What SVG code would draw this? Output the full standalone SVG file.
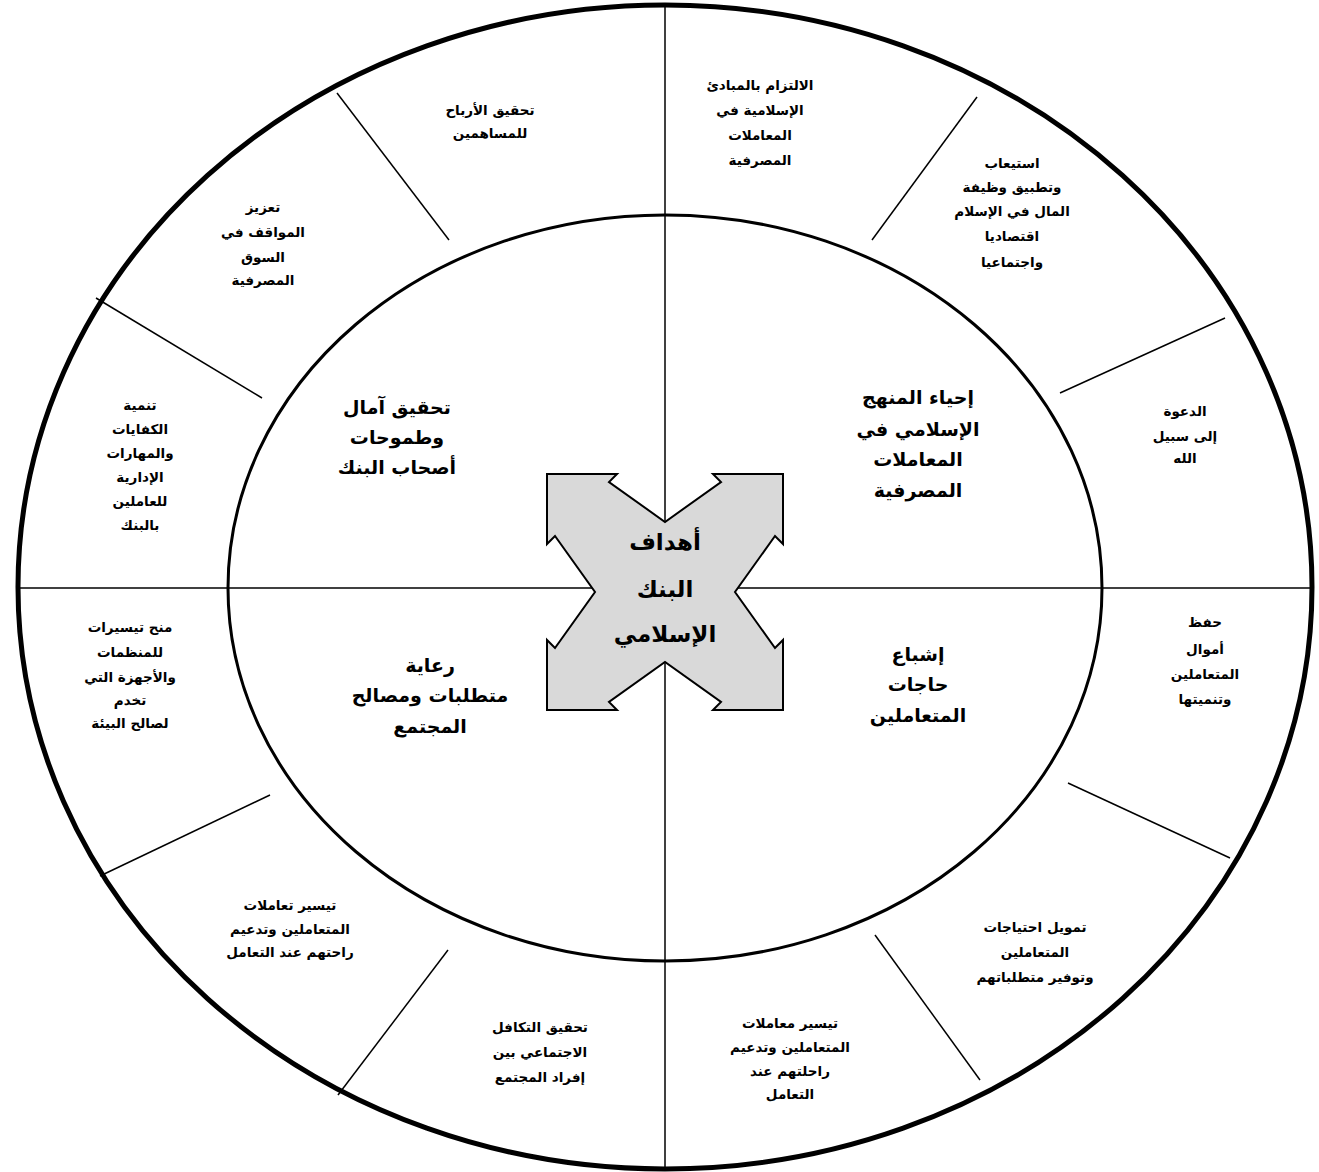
<svg xmlns="http://www.w3.org/2000/svg" width="1319" height="1172" viewBox="0 0 1319 1172">
<style>
  .o { font-family: "DejaVu Sans", "Noto Sans", sans-serif; font-weight: bold; font-size: 13.5px; text-anchor: middle; fill: #000; }
  .i { font-family: "DejaVu Sans", "Noto Sans", sans-serif; font-weight: bold; font-size: 19px; text-anchor: middle; fill: #000; }
  .c { font-family: "DejaVu Sans", "Noto Sans", sans-serif; font-weight: bold; font-size: 23px; text-anchor: middle; fill: #000; }
  .sep { stroke: #000; stroke-width: 1.5; fill: none; }
</style>
<rect width="1319" height="1172" fill="#fff"/>
<g id="connectors">
  <line class="sep" x1="665" y1="5" x2="665" y2="522"/>
  <line class="sep" x1="665" y1="662" x2="665" y2="1168"/>
  <line class="sep" x1="18" y1="588" x2="596" y2="588"/>
  <line class="sep" x1="734" y1="588" x2="1312" y2="588"/>
  <line class="sep" x1="872" y1="240" x2="977" y2="97"/>
  <line class="sep" x1="1060" y1="393" x2="1225" y2="318"/>
  <line class="sep" x1="1068" y1="783" x2="1230" y2="858"/>
  <line class="sep" x1="875" y1="935" x2="980" y2="1080"/>
  <line class="sep" x1="448" y1="950" x2="338" y2="1095"/>
  <line class="sep" x1="270" y1="795" x2="100" y2="876"/>
  <line class="sep" x1="262" y1="398" x2="96" y2="298"/>
  <line class="sep" x1="449" y1="240" x2="337" y2="93"/>
</g>
<g id="outer-ring">
  <ellipse cx="665" cy="587" rx="647" ry="582" fill="none" stroke="#000" stroke-width="5"/>
</g>
<g id="inner-ring">
  <ellipse cx="665" cy="588" rx="437" ry="373" fill="none" stroke="#000" stroke-width="3"/>
</g>
<g id="center">
  <path transform="translate(665,592)" d="M-118,-118 L-48,-118 L-56,-110 L0,-70 L56,-110 L48,-118 L118,-118 L118,-48 L110,-56 L70,0 L110,56 L118,48 L118,118 L48,118 L56,110 L0,70 L-56,110 L-48,118 L-118,118 L-118,48 L-110,56 L-70,0 L-110,-56 L-118,-48 Z" fill="#d9d9d9" stroke="#000" stroke-width="2"/>
  <text class="c" x="665" y="550">أهداف</text>
  <text class="c" x="665" y="597">البنك</text>
  <text class="c" x="665" y="642">الإسلامي</text>
</g>
<g id="q-top-left">
  <text class="i" x="397" y="414">تحقيق آمال</text>
  <text class="i" x="397" y="444">وطموحات</text>
  <text class="i" x="397" y="474">أصحاب البنك</text>
</g>
<g id="q-top-right">
  <text class="i" x="918" y="404">إحياء المنهج</text>
  <text class="i" x="918" y="436">الإسلامي في</text>
  <text class="i" x="918" y="466">المعاملات</text>
  <text class="i" x="918" y="497">المصرفية</text>
</g>
<g id="q-bottom-left">
  <text class="i" x="430" y="672">رعاية</text>
  <text class="i" x="430" y="702">متطلبات ومصالح</text>
  <text class="i" x="430" y="733">المجتمع</text>
</g>
<g id="q-bottom-right">
  <text class="i" x="918" y="661">إشباع</text>
  <text class="i" x="918" y="691">حاجات</text>
  <text class="i" x="918" y="722">المتعاملين</text>
</g>
<g id="s1">
  <text class="o" x="760" y="90">الالتزام بالمبادئ</text>
  <text class="o" x="760" y="115">الإسلامية في</text>
  <text class="o" x="760" y="140">المعاملات</text>
  <text class="o" x="760" y="165">المصرفية</text>
</g>
<g id="s2">
  <text class="o" x="1012" y="168">استيعاب</text>
  <text class="o" x="1012" y="192">وتطبيق وظيفة</text>
  <text class="o" x="1012" y="216">المال في الإسلام</text>
  <text class="o" x="1012" y="241">اقتصاديا</text>
  <text class="o" x="1012" y="267">واجتماعيا</text>
</g>
<g id="s3">
  <text class="o" x="1185" y="416">الدعوة</text>
  <text class="o" x="1185" y="441">إلى سبيل</text>
  <text class="o" x="1185" y="463">الله</text>
</g>
<g id="s4">
  <text class="o" x="1205" y="627">حفظ</text>
  <text class="o" x="1205" y="654">أموال</text>
  <text class="o" x="1205" y="679">المتعاملين</text>
  <text class="o" x="1205" y="704">وتنميتها</text>
</g>
<g id="s5">
  <text class="o" x="1035" y="932">تمويل احتياجات</text>
  <text class="o" x="1035" y="957">المتعاملين</text>
  <text class="o" x="1035" y="982">وتوفير متطلباتهم</text>
</g>
<g id="s6">
  <text class="o" x="790" y="1028">تيسير معاملات</text>
  <text class="o" x="790" y="1052">المتعاملين وتدعيم</text>
  <text class="o" x="790" y="1076">راحلتهم عند</text>
  <text class="o" x="790" y="1099">التعامل</text>
</g>
<g id="s7">
  <text class="o" x="540" y="1032">تحقيق التكافل</text>
  <text class="o" x="540" y="1057">الاجتماعي بين</text>
  <text class="o" x="540" y="1082">إفراد المجتمع</text>
</g>
<g id="s8">
  <text class="o" x="290" y="910">تيسير تعاملات</text>
  <text class="o" x="290" y="934">المتعاملين وتدعيم</text>
  <text class="o" x="290" y="957">راحتهم عند التعامل</text>
</g>
<g id="s9">
  <text class="o" x="130" y="632">منح تيسيرات</text>
  <text class="o" x="130" y="657">للمنظمات</text>
  <text class="o" x="130" y="682">والأجهزة التي</text>
  <text class="o" x="130" y="705">تخدم</text>
  <text class="o" x="130" y="728">لصالح البيئة</text>
</g>
<g id="s10">
  <text class="o" x="140" y="410">تنمية</text>
  <text class="o" x="140" y="434">الكفايات</text>
  <text class="o" x="140" y="458">والمهارات</text>
  <text class="o" x="140" y="482">الإدارية</text>
  <text class="o" x="140" y="506">للعاملين</text>
  <text class="o" x="140" y="530">بالبنك</text>
</g>
<g id="s11">
  <text class="o" x="263" y="212">تعزيز</text>
  <text class="o" x="263" y="237">المواقف في</text>
  <text class="o" x="263" y="262">السوق</text>
  <text class="o" x="263" y="285">المصرفية</text>
</g>
<g id="s12">
  <text class="o" x="490" y="115">تحقيق الأرباح</text>
  <text class="o" x="490" y="138">للمساهمين</text>
</g>
</svg>
